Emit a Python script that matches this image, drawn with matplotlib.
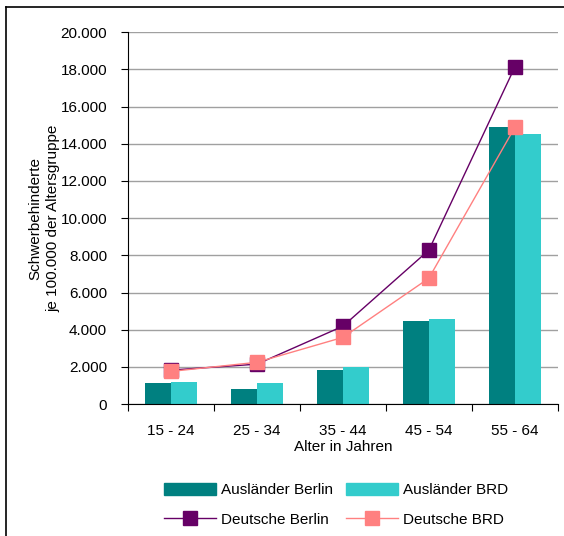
import numpy as np
import matplotlib.pyplot as plt
from matplotlib.lines import Line2D
from matplotlib.patches import Patch
from matplotlib.ticker import FuncFormatter

plt.rcParams['font.family'] = ['Liberation Sans', 'DejaVu Sans']

# data
age_groups = ['15 - 24', '25 - 34', '35 - 44', '45 - 54', '55 - 64']
auslaender_berlin = [1150, 800, 1860, 4460, 14880]
auslaender_brd = [1200, 1110, 2000, 4570, 14500]
deutsche_berlin = [1830, 2150, 4190, 8280, 18120]
deutsche_brd = [1760, 2250, 3590, 6770, 14880]

fig = plt.figure(figsize=(5.64, 5.36), dpi=100)
ax = fig.add_axes([0.227, 0.246, 0.762, 0.694])

x = np.arange(len(age_groups))
w = 0.3
ax.bar(x - w / 2, auslaender_berlin, w, color='#008080', zorder=2)
ax.bar(x + w / 2, auslaender_brd, w, color='#33CCCC', zorder=2)
ax.plot(x, deutsche_berlin, color='#660066', lw=1, marker='s', ms=10.5,
        mec='#660066', zorder=3)
ax.plot(x, deutsche_brd, color='#FF8080', lw=1, marker='s', ms=10.5,
        mec='#FF8080', zorder=4)

ax.set_xlim(-0.5, len(age_groups) - 0.5)
ax.set_ylim(0, 20000)
ax.set_yticks(range(0, 20001, 2000))
ax.yaxis.set_major_formatter(FuncFormatter(lambda v, p: f'{int(v):,}'.replace(',', '.')))
ax.set_xticks(x)
ax.set_xticklabels(age_groups)
ax.set_xticks(np.arange(-0.5, len(age_groups)), minor=True)
ax.tick_params(axis='x', which='major', length=0, pad=14, labelsize=11)
ax.tick_params(axis='x', which='minor', length=5, width=0.8)
ax.tick_params(axis='y', length=5, width=0.8, labelsize=11, pad=10)
ax.grid(axis='y', color='#a0a0a0', lw=1, zorder=0)
ax.spines['top'].set_visible(False)
ax.spines['right'].set_visible(False)

ax.set_xlabel('Alter in Jahren', fontsize=11, labelpad=2)
ax.set_ylabel('Schwerbehinderte\nje 100.000 der Altersgruppe', fontsize=11,
              labelpad=0, linespacing=1.4)

handles = [
    Patch(color='#008080'),
    Line2D([], [], color='#660066', lw=1, marker='s', ms=10.5),
    Patch(color='#33CCCC'),
    Line2D([], [], color='#FF8080', lw=1, marker='s', ms=10.5),
]
labels = ['Ausländer Berlin', 'Deutsche Berlin', 'Ausländer BRD', 'Deutsche BRD']
fig.legend(handles, labels, ncol=2, frameon=False, fontsize=11,
           loc='center', bbox_to_anchor=(0.596, 0.058),
           handlelength=3.4, handleheight=0.75, columnspacing=0.9,
           handletextpad=0.3, labelspacing=1.0)

# outer frame (left and top visible)
fig.add_artist(Line2D([6 / 564, 6 / 564], [0, 1 - 7 / 536], color='black', lw=1.2,
                      transform=fig.transFigure))
fig.add_artist(Line2D([6 / 564, 1], [1 - 7 / 536, 1 - 7 / 536], color='black', lw=1.2,
                      transform=fig.transFigure))

fig.savefig('out.png', dpi=100)
